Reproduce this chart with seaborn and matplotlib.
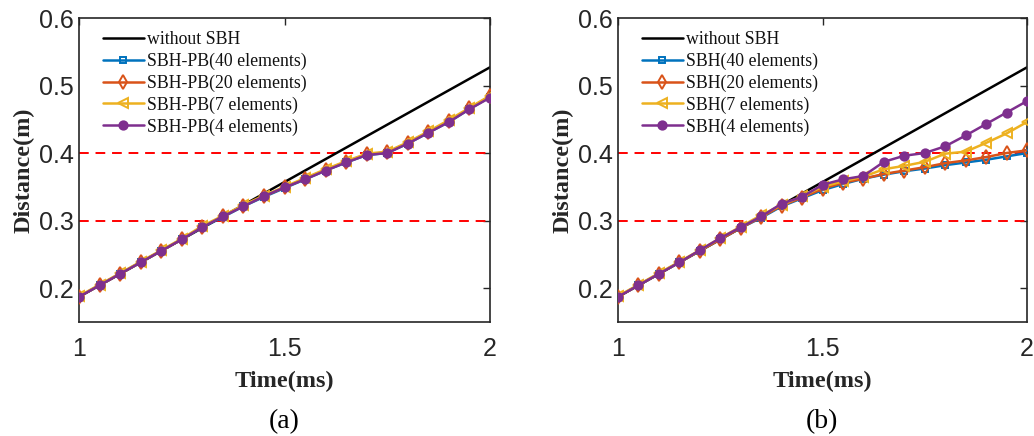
import numpy as np
import pandas as pd
import matplotlib
matplotlib.use("Agg")
import matplotlib.pyplot as plt
import seaborn as sns

time = [1.00, 1.05, 1.10, 1.15, 1.20, 1.25, 1.30, 1.35, 1.40, 1.45, 1.50,
        1.55, 1.60, 1.65, 1.70, 1.75, 1.80, 1.85, 1.90, 1.95, 2.00]

no_sbh = [0.187, 0.204, 0.221, 0.238, 0.255, 0.272, 0.289, 0.306, 0.323, 0.340, 0.357,
          0.374, 0.391, 0.408, 0.425, 0.442, 0.459, 0.476, 0.493, 0.510, 0.527]

a_40 = [0.187, 0.204, 0.221, 0.238, 0.255, 0.272, 0.290, 0.305, 0.321, 0.335, 0.348,
        0.361, 0.374, 0.386, 0.397, 0.400, 0.414, 0.430, 0.446, 0.465, 0.483]
a_20 = [0.187, 0.204, 0.221, 0.238, 0.255, 0.272, 0.291, 0.306, 0.322, 0.336, 0.349,
        0.362, 0.375, 0.387, 0.398, 0.401, 0.415, 0.431, 0.447, 0.466, 0.484]
a_7 = [0.188, 0.205, 0.222, 0.239, 0.256, 0.273, 0.292, 0.307, 0.323, 0.337, 0.350,
       0.363, 0.376, 0.388, 0.399, 0.402, 0.416, 0.432, 0.449, 0.467, 0.485]
a_4 = [0.187, 0.204, 0.221, 0.238, 0.255, 0.272, 0.290, 0.306, 0.321, 0.336, 0.349,
       0.361, 0.374, 0.386, 0.397, 0.400, 0.414, 0.430, 0.446, 0.465, 0.482]

b_40 = [0.187, 0.204, 0.221, 0.238, 0.255, 0.272, 0.289, 0.304, 0.321, 0.333, 0.345,
        0.354, 0.362, 0.368, 0.373, 0.377, 0.382, 0.386, 0.390, 0.395, 0.400]
b_20 = [0.187, 0.204, 0.221, 0.238, 0.255, 0.272, 0.289, 0.305, 0.322, 0.334, 0.347,
        0.356, 0.362, 0.369, 0.374, 0.379, 0.385, 0.389, 0.394, 0.400, 0.404]
b_7 = [0.188, 0.205, 0.222, 0.239, 0.256, 0.274, 0.291, 0.308, 0.323, 0.336, 0.350,
       0.358, 0.365, 0.376, 0.381, 0.387, 0.399, 0.402, 0.415, 0.429, 0.446]
b_4 = [0.187, 0.204, 0.221, 0.238, 0.256, 0.274, 0.290, 0.306, 0.325, 0.335, 0.353,
       0.361, 0.366, 0.387, 0.396, 0.400, 0.410, 0.426, 0.443, 0.460, 0.477]

labels_a = ["without SBH", "SBH-PB(40 elements)", "SBH-PB(20 elements)",
            "SBH-PB(7 elements)", "SBH-PB(4 elements)"]
labels_b = ["without SBH", "SBH(40 elements)", "SBH(20 elements)",
            "SBH(7 elements)", "SBH(4 elements)"]
ref_lines = [0.3, 0.4]
xticks = [1, 1.5, 2]
yticks = [0.2, 0.3, 0.4, 0.5, 0.6]

sns.set_theme(style="white")
plt.rcParams["font.family"] = ["Liberation Sans", "DejaVu Sans"]

colors = ["black", "#0072BD", "#D95319", "#EDB120", "#7E2F8E"]
markers = [None, "s", "d", "<", "o"]
msizes = [0, 5, 7, 7.5, 6]
filled = [True, False, False, False, True]

fig = plt.figure(figsize=(10.34, 4.36), dpi=100)
ax_a = fig.add_axes([0.0764, 0.262, 0.3975, 0.6967])
ax_b = fig.add_axes([0.5977, 0.262, 0.3956, 0.6967])

def draw(ax, series, labels):
    for yv in ref_lines:
        ax.axhline(yv, color="#FF0000", lw=1.4, dashes=(5, 3.5), zorder=1)
    for i, (s, lab) in enumerate(zip(series, labels)):
        df = pd.DataFrame({"t": time, "d": s})
        kw = dict(color=colors[i], lw=1.8, label=lab, zorder=2 + i)
        if markers[i] is not None:
            kw.update(marker=markers[i], markersize=msizes[i],
                      markeredgecolor=colors[i], markeredgewidth=1.4,
                      markerfacecolor=colors[i] if filled[i] else "none")
        sns.lineplot(data=df, x="t", y="d", ax=ax, **kw)
    ax.set_xlim(1, 2)
    ax.set_ylim(0.15, 0.6)
    ax.set_xticks(xticks)
    ax.set_xticklabels(["1", "1.5", "2"])
    ax.set_yticks(yticks)
    ax.set_yticklabels(["0.2", "0.3", "0.4", "0.5", "0.6"])
    ax.tick_params(direction="in", length=5, width=1, colors="#262626",
                   labelsize=18, top=True, right=True)
    ax.tick_params(axis="x", pad=11)
    ax.tick_params(axis="y", pad=4)
    for sp in ax.spines.values():
        sp.set_color("#262626")
        sp.set_linewidth(1.2)
    ax.set_xlabel("Time(ms)", fontsize=17.5, fontweight="bold",
                  family="Liberation Serif", color="#262626", labelpad=7)
    ax.set_ylabel("Distance(m)", fontsize=17.5, fontweight="bold",
                  family="Liberation Serif", color="#262626", labelpad=3)
    leg = ax.legend(loc="upper left", bbox_to_anchor=(0.045, 0.975), frameon=False,
                    prop={"family": "Liberation Serif", "size": 12.8},
                    handlelength=2.3, handletextpad=0.2, labelspacing=0.26,
                    borderaxespad=0, borderpad=0.3)
    for t in leg.get_texts():
        t.set_color("#111111")

draw(ax_a, [no_sbh, a_40, a_20, a_7, a_4], labels_a)
draw(ax_b, [no_sbh, b_40, b_20, b_7, b_4], labels_b)

fig.text(0.275, 0.033, "(a)", ha="center", va="center", fontsize=20,
         family="Liberation Serif", color="black")
fig.text(0.795, 0.033, "(b)", ha="center", va="center", fontsize=20,
         family="Liberation Serif", color="black")

fig.savefig("out.png", dpi=100)
